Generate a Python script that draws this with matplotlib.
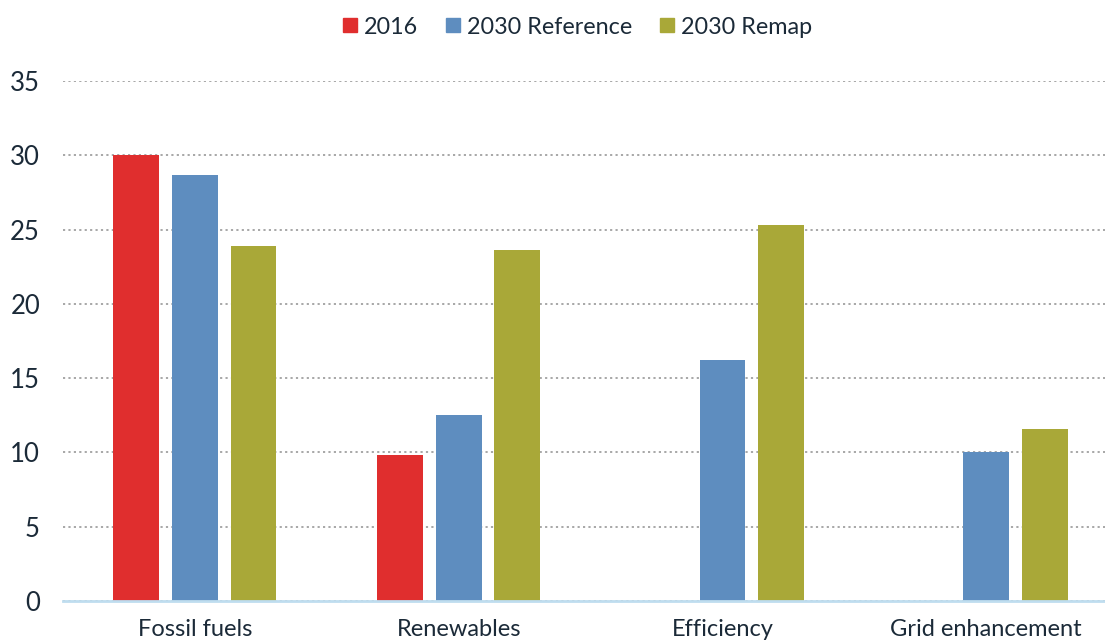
import matplotlib.pyplot as plt
import numpy as np
from matplotlib.lines import Line2D

categories = ["Fossil fuels", "Renewables", "Efficiency", "Grid enhancement"]
series_names = ["2016", "2030 Reference", "2030 Remap"]
vals_2016 = [30.0, 9.8, 0, 0]
vals_ref = [28.7, 12.5, 16.2, 10.0]
vals_remap = [23.9, 23.6, 25.3, 11.6]
yticks = [0, 5, 10, 15, 20, 25, 30, 35]

colors = ["#E02E2E", "#5E8DBF", "#A9A838"]
text_color = "#1B2A38"

plt.rcParams['font.family'] = ['Lato', 'DejaVu Sans']

fig = plt.figure(figsize=(11.05, 6.44), dpi=100)
ax = fig.add_axes([63 / 1105, 43 / 644, 1042 / 1105, 520 / 644])

x = np.arange(len(categories))
width = 0.174
step = 0.222
for i, (vals, c) in enumerate(zip([vals_2016, vals_ref, vals_remap], colors)):
    v = np.array(vals, dtype=float)
    mask = v > 0
    ax.bar(x[mask] + (i - 1) * step, v[mask], width=width, color=c, zorder=3)

ax.set_xlim(-0.5, 3.45)
ax.set_ylim(0, 35)
ax.set_yticks(yticks)
ax.set_xticks(x)
ax.set_xticklabels(categories)
ax.yaxis.grid(True, linestyle=(0, (1.2, 1.8)), color="#A0A0A0", linewidth=1.3, zorder=0)
ax.tick_params(axis='both', length=0, colors=text_color)
ax.tick_params(axis='y', pad=16.5, labelsize=18.5)
ax.tick_params(axis='x', pad=13, labelsize=17)
for s in ["top", "right", "left"]:
    ax.spines[s].set_visible(False)
ax.spines["bottom"].set_color("#BFDDEF")
ax.spines["bottom"].set_linewidth(2)
ax.spines["bottom"].set_zorder(4)

handles = [Line2D([], [], marker='s', linestyle='none', markersize=9.5,
                  markerfacecolor=c, markeredgecolor=c) for c in colors]
fig.legend(handles, series_names, loc='center', bbox_to_anchor=(0.522, 0.958),
           ncol=3, frameon=False, fontsize=16.8, handlelength=0.7,
           handletextpad=0.25, columnspacing=1.15, labelcolor=text_color)

fig.savefig("out.png", dpi=100)
